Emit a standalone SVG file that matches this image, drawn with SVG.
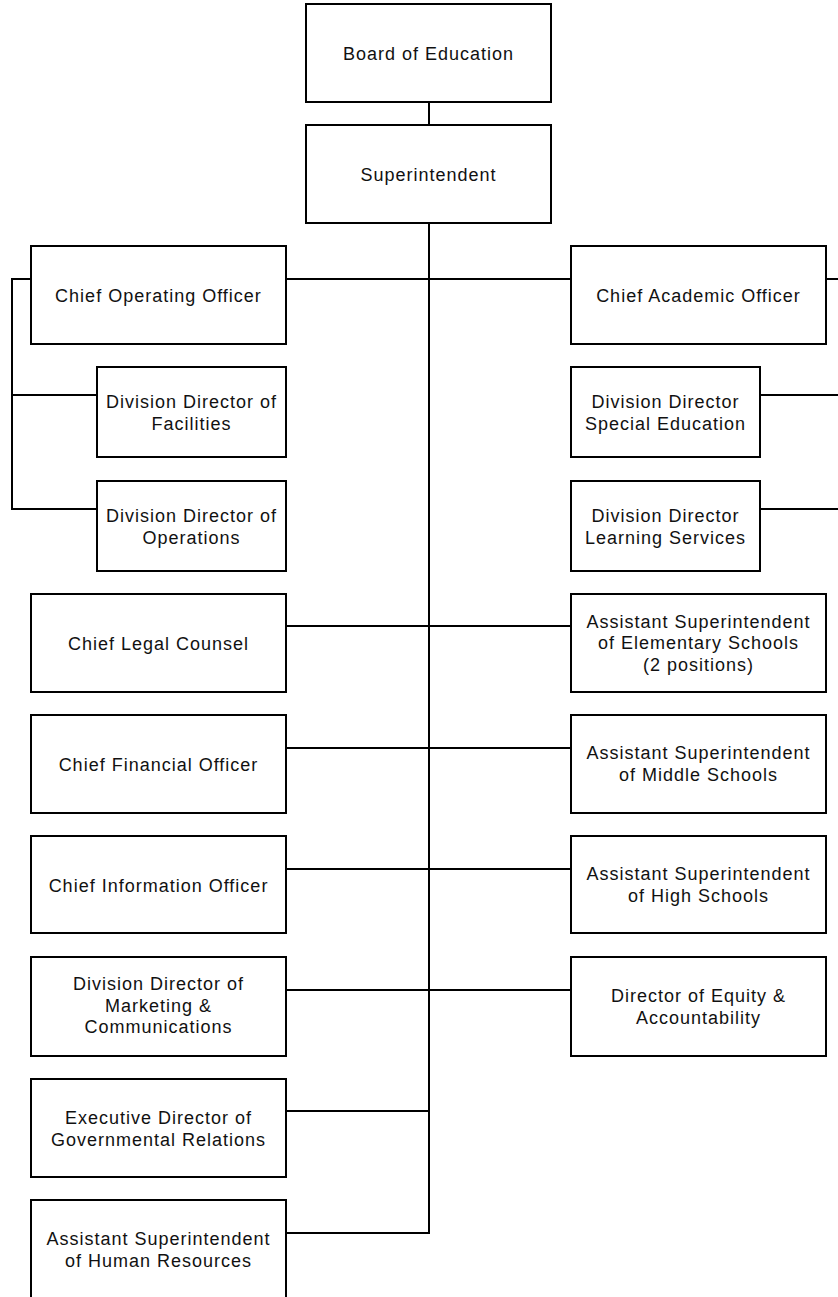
<svg xmlns="http://www.w3.org/2000/svg" width="838" height="1297" viewBox="0 0 838 1297">
<style>
.box{fill:#fff;stroke:#000;stroke-width:2}
.sh{fill:none;stroke:#b0b0b0;stroke-width:1}
.ln{stroke:#000;stroke-width:2;fill:none}
text{font-family:"Liberation Sans",Arial,sans-serif;font-size:18px;fill:#111;text-anchor:middle;letter-spacing:1px}
</style>
<rect width="838" height="1297" fill="#fff"/>
<g id="connectors">
<line class="ln" x1="429" y1="102" x2="429" y2="125"/>
<line class="ln" x1="429" y1="223" x2="429" y2="1233"/>
<line class="ln" x1="286" y1="279" x2="571" y2="279"/>
<line class="ln" x1="826" y1="279" x2="840" y2="279"/>
<polyline class="ln" points="31,279 12,279 12,509 97,509"/>
<line class="ln" x1="12" y1="395" x2="97" y2="395"/>
<line class="ln" x1="760" y1="395" x2="840" y2="395"/>
<line class="ln" x1="760" y1="509" x2="840" y2="509"/>
<line class="ln" x1="286" y1="626" x2="571" y2="626"/>
<line class="ln" x1="286" y1="748" x2="571" y2="748"/>
<line class="ln" x1="286" y1="869" x2="571" y2="869"/>
<line class="ln" x1="286" y1="990" x2="571" y2="990"/>
<line class="ln" x1="286" y1="1111" x2="430" y2="1111"/>
<line class="ln" x1="286" y1="1233" x2="430" y2="1233"/>
</g>
<g id="board"><rect class="box" x="306" y="4" width="245" height="98"/><text x="428.5" y="60">Board of Education</text></g>
<g id="superintendent"><rect class="box" x="306" y="125" width="245" height="98"/><text x="428.5" y="181">Superintendent</text></g>
<g id="coo"><rect class="box" x="31" y="246" width="255" height="98"/><text x="158.5" y="302">Chief Operating Officer</text></g>
<g id="facilities"><rect class="box" x="97" y="367" width="189" height="90"/><text x="191.5" y="408">Division Director of</text><text x="191.5" y="429.5">Facilities</text></g>
<g id="operations"><rect class="box" x="97" y="481" width="189" height="90"/><text x="191.5" y="522">Division Director of</text><text x="191.5" y="543.5">Operations</text></g>
<g id="cao"><rect class="box" x="571" y="246" width="255" height="98"/><text x="698.5" y="302">Chief Academic Officer</text></g>
<g id="specialed"><rect class="box" x="571" y="367" width="189" height="90"/><text x="665.5" y="408">Division Director</text><text x="665.5" y="429.5">Special Education</text></g>
<g id="learning"><rect class="box" x="571" y="481" width="189" height="90"/><text x="665.5" y="522">Division Director</text><text x="665.5" y="543.5">Learning Services</text></g>
<g id="legal"><rect class="box" x="31" y="594" width="255" height="98"/><text x="158.5" y="650">Chief Legal Counsel</text></g>
<g id="elementary"><rect class="box" x="571" y="594" width="255" height="98"/><text x="698.5" y="627.5">Assistant Superintendent</text><text x="698.5" y="649">of Elementary Schools</text><text x="698.5" y="670.5">(2 positions)</text></g>
<g id="cfo"><rect class="box" x="31" y="715" width="255" height="98"/><text x="158.5" y="771">Chief Financial Officer</text></g>
<g id="middle"><rect class="box" x="571" y="715" width="255" height="98"/><text x="698.5" y="759">Assistant Superintendent</text><text x="698.5" y="780.5">of Middle Schools</text></g>
<g id="cio"><rect class="box" x="31" y="836" width="255" height="97"/><text x="158.5" y="891.5">Chief Information Officer</text></g>
<g id="high"><rect class="box" x="571" y="836" width="255" height="97"/><text x="698.5" y="880">Assistant Superintendent</text><text x="698.5" y="901.5">of High Schools</text></g>
<g id="marketing"><rect class="box" x="31" y="957" width="255" height="99"/><text x="158.5" y="990">Division Director of</text><text x="158.5" y="1011.5">Marketing &amp;</text><text x="158.5" y="1033">Communications</text></g>
<g id="equity"><rect class="box" x="571" y="957" width="255" height="99"/><text x="698.5" y="1002">Director of Equity &amp;</text><text x="698.5" y="1023.5">Accountability</text></g>
<g id="governmental"><rect class="box" x="31" y="1079" width="255" height="98"/><text x="158.5" y="1124">Executive Director of</text><text x="158.5" y="1145.5">Governmental Relations</text></g>
<g id="hr"><rect class="box" x="31" y="1200" width="255" height="98"/><text x="158.5" y="1245">Assistant Superintendent</text><text x="158.5" y="1266.5">of Human Resources</text></g>
</svg>
